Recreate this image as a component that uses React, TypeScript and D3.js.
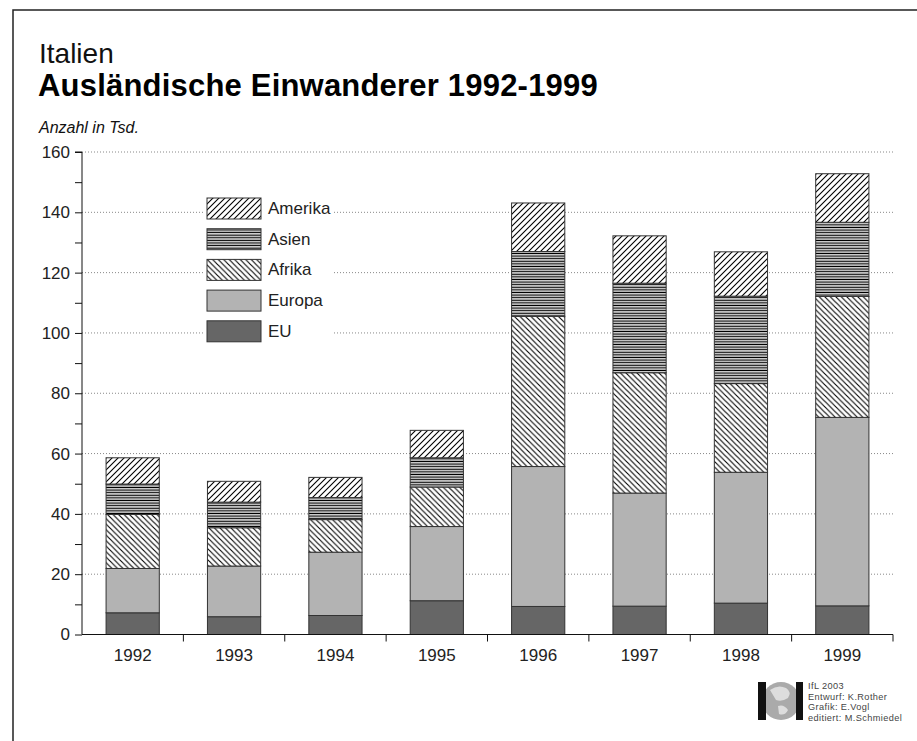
import React, { useEffect, useRef } from 'react'
import * as d3 from 'd3'

const years = ['1992', '1993', '1994', '1995', '1996', '1997', '1998', '1999']
const eu = [7.2, 5.9, 6.3, 11.2, 9.3, 9.4, 10.4, 9.5]
const europa = [14.7, 16.8, 21.0, 24.6, 46.4, 37.5, 43.4, 62.5]
const afrika = [17.9, 12.7, 10.8, 13.1, 49.8, 39.9, 29.4, 40.1]
const asien = [10.1, 8.5, 7.3, 9.7, 21.5, 29.7, 29.0, 24.6]
const amerika = [8.7, 6.9, 6.7, 9.1, 16.1, 15.7, 14.7, 16.1]
const seriesKeys = ['EU', 'Europa', 'Afrika', 'Asien', 'Amerika']
const yTicks = [0, 20, 40, 60, 80, 100, 120, 140, 160]
const credits = ['IfL 2003', 'Entwurf: K.Rother', 'Grafik: E.Vogl', 'editiert: M.Schmiedel']

const FONT = '"Liberation Sans", Arial, Helvetica, sans-serif'

export default function App() {
  const ref = useRef<SVGSVGElement>(null)

  useEffect(() => {
    const svg = d3.select(ref.current)
    svg.selectAll('*').remove()

    const fills: Record<string, string> = {
      EU: '#666666',
      Europa: '#b3b3b3',
      Afrika: 'url(#pat-afrika)',
      Asien: 'url(#pat-asien)',
      Amerika: 'url(#pat-amerika)',
    }

    // hatch patterns
    const defs = svg.append('defs')
    const pAm = defs.append('pattern').attr('id', 'pat-amerika')
      .attr('patternUnits', 'userSpaceOnUse').attr('width', 6).attr('height', 6)
    pAm.append('rect').attr('width', 6).attr('height', 6).attr('fill', '#fff')
    pAm.append('path').attr('d', 'M0,6L6,0M-1,1L1,-1M5,7L7,5')
      .attr('stroke', '#000').attr('stroke-width', 1.1)
    const pAf = defs.append('pattern').attr('id', 'pat-afrika')
      .attr('patternUnits', 'userSpaceOnUse').attr('width', 5.5).attr('height', 5.5)
    pAf.append('rect').attr('width', 5.5).attr('height', 5.5).attr('fill', '#fff')
    pAf.append('path').attr('d', 'M0,0L5.5,5.5M-1,4.5L1,6.5M4.5,-1L6.5,1')
      .attr('stroke', '#000').attr('stroke-width', 1.1)
    const pAs = defs.append('pattern').attr('id', 'pat-asien')
      .attr('patternUnits', 'userSpaceOnUse').attr('width', 6).attr('height', 2.6)
    pAs.append('rect').attr('width', 6).attr('height', 2.6).attr('fill', '#fff')
    pAs.append('rect').attr('y', 0.6).attr('width', 6).attr('height', 1.3).attr('fill', '#000')

    // frame
    svg.append('path').attr('d', 'M13,741V10H917')
      .attr('fill', 'none').attr('stroke', '#222').attr('stroke-width', 1.5)

    // titles
    svg.append('text').attr('x', 39).attr('y', 63).attr('font-family', FONT)
      .attr('font-size', 28).attr('fill', '#111').text('Italien')
    svg.append('text').attr('x', 38).attr('y', 96).attr('font-family', FONT)
      .attr('font-size', 31).attr('font-weight', 'bold').attr('letter-spacing', 0.2).attr('fill', '#000')
      .text('Ausländische Einwanderer 1992-1999')
    svg.append('text').attr('x', 39).attr('y', 133).attr('font-family', FONT)
      .attr('font-size', 16).attr('font-style', 'italic').attr('fill', '#111')
      .text('Anzahl in Tsd.')

    const x = d3.scaleBand().domain(years).range([82, 893])
    const y = d3.scaleLinear().domain([0, 160]).range([634.5, 152])
    const barW = x.bandwidth() * 0.525

    // grid
    svg.append('g').selectAll('line').data(yTicks.filter(d => d > 0)).enter()
      .append('line')
      .attr('x1', 82).attr('x2', 893)
      .attr('y1', d => y(d)).attr('y2', d => y(d))
      .attr('stroke', '#888').attr('stroke-width', 1).attr('stroke-dasharray', '1,2')

    // stacked bars
    const table = years.map((yr, i) => ({
      year: yr, EU: eu[i], Europa: europa[i], Afrika: afrika[i], Asien: asien[i], Amerika: amerika[i],
    }))
    const stacked = d3.stack<any>().keys(seriesKeys)(table)

    svg.append('g').selectAll('g').data(stacked).enter()
      .append('g')
      .attr('fill', d => fills[d.key])
      .selectAll('rect').data(d => d).enter()
      .append('rect')
      .attr('x', d => (x(d.data.year) as number) + (x.bandwidth() - barW) / 2)
      .attr('width', barW)
      .attr('y', d => y(d[1]))
      .attr('height', d => y(d[0]) - y(d[1]))
      .attr('stroke', '#333').attr('stroke-width', 1)

    // y axis
    const yAxis = svg.append('g').attr('transform', 'translate(82,0)')
      .call(d3.axisLeft(y).tickValues(d3.range(0, 161, 10)).tickSize(7).tickFormat(d => (+d % 20 === 0 ? String(d) : '')).tickPadding(5))
    yAxis.select('.domain').attr('stroke', '#111').attr('d', `M-7,${y(160)}H0V${y(0)}`)
    yAxis.selectAll('line').attr('stroke', '#111')
    yAxis.selectAll('text').attr('font-family', FONT).attr('font-size', 17).attr('fill', '#222')

    // x axis
    const xAxis = svg.append('g').attr('transform', `translate(0,${y(0)})`)
      .call(d3.axisBottom(x).tickSize(0).tickPadding(14))
    xAxis.select('.domain').attr('stroke', '#111').attr('d', `M82,0H893`)
    xAxis.selectAll('text').attr('font-family', FONT).attr('font-size', 17).attr('fill', '#222')
    xAxis.append('g').selectAll('line').data(years.slice(1).concat(['end'])).enter()
      .append('line')
      .attr('x1', (d, i) => 82 + x.step() * (i + 1)).attr('x2', (d, i) => 82 + x.step() * (i + 1))
      .attr('y1', 0).attr('y2', 7)
      .attr('stroke', '#111')

    // legend
    const legend = svg.append('g')
    legend.append('rect').attr('x', 203).attr('y', 193).attr('width', 130).attr('height', 155).attr('fill', '#fff')
    const legendKeys = seriesKeys.slice().reverse()
    const rows = legend.selectAll('g.row').data(legendKeys).enter()
      .append('g').attr('class', 'row')
      .attr('transform', (d, i) => `translate(207,${198 + i * 30.7})`)
    rows.append('rect').attr('width', 54).attr('height', 21)
      .attr('fill', d => fills[d]).attr('stroke', '#333').attr('stroke-width', 1)
    rows.append('text').attr('x', 61).attr('y', 16).attr('font-family', FONT)
      .attr('font-size', 17).attr('fill', '#222').text(d => d)

    // logo
    const logo = svg.append('g')
    logo.append('circle').attr('cx', 781).attr('cy', 701).attr('r', 19).attr('fill', '#aaa')
    logo.append('path').attr('d', 'M770,690 q8,-6 16,-2 q6,4 2,10 q-6,4 -12,2 z M778,706 q6,-2 10,4 q-3,6 -9,4 z')
      .attr('fill', '#ddd')
    logo.append('rect').attr('x', 758).attr('y', 682).attr('width', 8).attr('height', 38).attr('fill', '#111')
    logo.append('rect').attr('x', 796).attr('y', 682).attr('width', 7).attr('height', 38).attr('fill', '#111')
    logo.selectAll('text.cr').data(credits).enter()
      .append('text').attr('class', 'cr')
      .attr('x', 808).attr('y', (d, i) => 689 + i * 10.5)
      .attr('font-family', FONT).attr('font-size', 9.2).attr('letter-spacing', 0.4).attr('fill', '#444')
      .text(d => d)
  }, [])

  return (
    <div style={{ position: 'absolute', left: 0, top: 0 }}>
      <svg ref={ref} width={917} height={741} style={{ display: 'block', background: '#fff' }} />
    </div>
  )
}
